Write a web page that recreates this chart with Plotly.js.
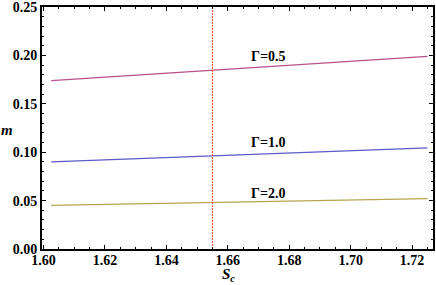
<!DOCTYPE html>
<html>
<head>
<script src="https://cdn.plot.ly/plotly-3.0.1.min.js"></script>
<style>html,body{margin:0;padding:0;background:#fff}#c{width:436px;height:285px}</style>
</head>
<body>
<div id="c"></div>
<script>
// Data
const sc = [1.6025, 1.655, 1.725];
const mGamma05 = [0.1740, 0.1850, 0.1990];
const mGamma10 = [0.0900, 0.0963, 0.1045];
const mGamma20 = [0.0450, 0.0480, 0.0520];
const vlineX = 1.655;
const labels = ["Γ=0.5", "Γ=1.0", "Γ=2.0"];
const labelX = [1.673, 1.673, 1.673];
const labelY = [0.1985, 0.1105, 0.0575];
const xTicks = [1.60, 1.62, 1.64, 1.66, 1.68, 1.70, 1.72];
const yTicks = [0.00, 0.05, 0.10, 0.15, 0.20, 0.25];

const serif = "Liberation Serif";
const colors = ["#b8508a", "#5a5ac8", "#b8a550"];
const series = [mGamma05, mGamma10, mGamma20];
const traces = series.map((s, i) => ({
  x: sc, y: s, mode: "lines", type: "scatter",
  line: {color: colors[i], width: 1.2}, hoverinfo: "skip", cliponaxis: false
}));
traces.push({
  x: [vlineX, vlineX], y: [0, 0.25], mode: "lines", type: "scatter",
  line: {color: "#ff5a40", width: 1.2, dash: "2px,1px"}, hoverinfo: "skip"
});

const tickFont = {family: serif, size: 14, color: "#000", weight: "bold"};
const axisCommon = {
  showline: true, linecolor: "#000", linewidth: 2, mirror: "ticks",
  ticks: "inside", ticklen: 4, tickwidth: 1, tickcolor: "#000",
  showgrid: false, zeroline: false, tickfont: tickFont, ticklabeloverflow: "allow"
};
const annotations = labels.map((t, i) => ({
  x: labelX[i], y: labelY[i], xref: "x", yref: "y", text: "<b>" + t + "</b>",
  showarrow: false, font: {family: serif, size: 14, color: "#000"}
}));
annotations.push({
  x: -0.1074, y: 0.49, xref: "paper", yref: "paper", xanchor: "left", borderpad: 0,
  text: "<b><i>m</i></b>",
  showarrow: false, font: {family: serif, size: 15, color: "#000"}
});
annotations.push({
  x: 0.477, y: 0, xref: "paper", yref: "paper", yanchor: "top", yshift: -16, borderpad: 0,
  text: "<b><i>S<sub>c</sub></i></b>",
  showarrow: false, font: {family: serif, size: 15, color: "#000"}
});

const layout = {
  width: 436, height: 285,
  margin: {l: 42, r: 3, t: 7, b: 36},
  paper_bgcolor: "#fff", plot_bgcolor: "#fff",
  font: {family: serif},
  showlegend: false,
  xaxis: Object.assign({}, axisCommon, {
    range: [1.5995, 1.7268], tickvals: xTicks, ticktext: xTicks.map(v => v.toFixed(2)),
    ticklabelstandoff: -3,
    minor: {dtick: 0.005, tick0: 1.6, ticks: "inside", ticklen: 2, tickcolor: "#000", tickwidth: 1}
  }),
  yaxis: Object.assign({}, axisCommon, {
    range: [0, 0.25], tickvals: yTicks, ticktext: yTicks.map(v => v.toFixed(2)),
    minor: {dtick: 0.01, tick0: 0, ticks: "inside", ticklen: 2, tickcolor: "#000", tickwidth: 1}
  }),
  annotations: annotations
};
Plotly.newPlot("c", traces, layout, {staticPlot: true});
</script>
</body>
</html>
